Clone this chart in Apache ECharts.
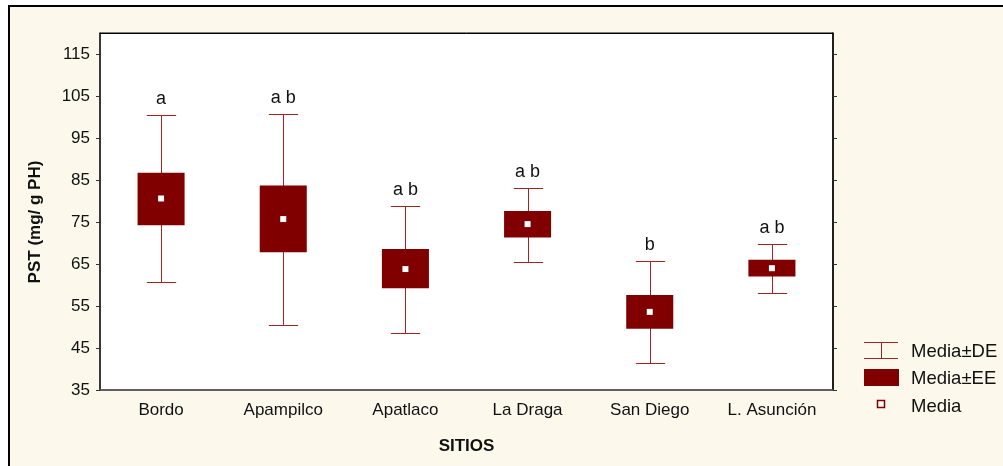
<!DOCTYPE html>
<html>
<head>
<meta charset="utf-8">
<script src="https://cdn.jsdelivr.net/npm/echarts@6/dist/echarts.min.js"></script>
<style>
html,body{margin:0;padding:0;background:#fff;}
#chart{width:1003px;height:466px;}
</style>
</head>
<body>
<div id="chart"></div>
<script>
// ---- data ----
const sitios   = ['Bordo', 'Apampilco', 'Apatlaco', 'La Draga', 'San Diego', 'L. Asunción'];
const media    = [80.6, 75.7, 63.8, 74.5, 53.6, 64.0];
const eeLow    = [74.2, 67.8, 59.2, 71.3, 49.6, 62.0];   // Media - EE
const eeHigh   = [86.7, 83.7, 68.6, 77.6, 57.6, 66.0];   // Media + EE
const deLow    = [60.6, 50.5, 48.5, 65.5, 41.4, 58.1];   // Media - DE
const deHigh   = [100.4, 100.7, 78.8, 83.1, 65.6, 69.7]; // Media + DE
const letras   = ['a', 'a b', 'a b', 'a b', 'b', 'a b'];
const yTicks   = [35, 45, 55, 65, 75, 85, 95, 105, 115];

const FONT = 'Arial, "Liberation Sans", sans-serif';
const MAROON = '#800000';
const WHISK = '#A02424';

const seriesData = sitios.map((s, i) => [i, deLow[i], eeLow[i], media[i], eeHigh[i], deHigh[i], letras[i]]);

const chart = echarts.init(document.getElementById('chart'), null, {renderer: 'canvas'});

function renderItem(params, api) {
  const i = api.value(0);
  const band = api.size([1, 0])[0];
  const pLoDE = api.coord([i, api.value(1)]);
  const pLoEE = api.coord([i, api.value(2)]);
  const pM    = api.coord([i, api.value(3)]);
  const pHiEE = api.coord([i, api.value(4)]);
  const pHiDE = api.coord([i, api.value(5)]);
  const x = Math.round(pM[0]) + 0.5;
  const boxW = band * 0.385;
  const capW = band * 0.24;
  const letter = seriesData[params.dataIndex][6];
  const lineStyle = {stroke: WHISK, lineWidth: 1, fill: null};
  return {
    type: 'group',
    children: [
      {type: 'line', shape: {x1: x, y1: pHiDE[1], x2: x, y2: pLoDE[1]}, style: lineStyle},
      {type: 'line', shape: {x1: x - capW / 2, y1: Math.round(pHiDE[1]) + 0.5, x2: x + capW / 2, y2: Math.round(pHiDE[1]) + 0.5}, style: lineStyle},
      {type: 'line', shape: {x1: x - capW / 2, y1: Math.round(pLoDE[1]) + 0.5, x2: x + capW / 2, y2: Math.round(pLoDE[1]) + 0.5}, style: lineStyle},
      {type: 'rect', shape: {x: pM[0] - boxW / 2, y: pHiEE[1], width: boxW, height: pLoEE[1] - pHiEE[1]}, style: {fill: MAROON}},
      {type: 'rect', shape: {x: pM[0] - 3, y: pM[1] - 3, width: 6, height: 6}, style: {fill: '#fff'}},
      {type: 'text', style: {text: letter, x: pM[0], y: pHiDE[1] - 16, align: 'center', verticalAlign: 'middle', font: '18px ' + FONT, fill: '#111'}}
    ]
  };
}

const option = {
  backgroundColor: '#fff',
  animation: false,
  grid: {left: 100, right: 170, top: 33, bottom: 76, show: true, backgroundColor: '#fff', borderColor: '#000', borderWidth: 1},
  xAxis: [{
    type: 'category', data: sitios, position: 'bottom', boundaryGap: true,
    axisLine: {lineStyle: {color: '#555', width: 1.5}},
    axisTick: {inside: true, length: 3, lineStyle: {color: '#333'}},
    axisLabel: {color: '#111', fontSize: 17, fontFamily: FONT, margin: 12},
    name: 'SITIOS', nameLocation: 'middle', nameGap: 48,
    nameTextStyle: {color: '#111', fontSize: 17, fontWeight: 'bold', fontFamily: FONT}
  }, {
    type: 'category', data: sitios, position: 'top', boundaryGap: true,
    axisLine: {lineStyle: {color: '#000', width: 1}},
    axisTick: {inside: true, length: 3, lineStyle: {color: '#333'}},
    axisLabel: {show: false}
  }],
  yAxis: [{
    type: 'value', min: 35, max: 120, position: 'left',
    axisLine: {show: true, lineStyle: {color: '#222', width: 1.5}},
    axisTick: {show: true, length: 4, customValues: yTicks, lineStyle: {color: '#333'}},
    axisLabel: {color: '#111', fontSize: 17, fontFamily: FONT, margin: 10, customValues: yTicks},
    splitLine: {show: false}
  }, {
    type: 'value', min: 35, max: 120, position: 'right',
    axisLine: {show: true, lineStyle: {color: '#000', width: 1.5}},
    axisTick: {show: true, length: 4, customValues: yTicks, lineStyle: {color: '#333'}},
    axisLabel: {show: false, customValues: yTicks},
    splitLine: {show: false}
  }],
  series: [{
    type: 'custom',
    name: 'PST',
    xAxisIndex: 0, yAxisIndex: 0,
    renderItem: renderItem,
    encode: {x: 0, y: [1, 2, 3, 4, 5]},
    data: seriesData,
    z: 5
  }],
  graphic: [
    {type: 'rect', z: -10, silent: true, shape: {x: 9, y: 6, width: 1010, height: 480}, style: {fill: '#FDF8EC', stroke: '#000', lineWidth: 2}},
    {type: 'text', z: 10, x: 35, y: 222, rotation: Math.PI / 2, style: {text: 'PST (mg/ g PH)', align: 'center', verticalAlign: 'middle', font: 'bold 17px ' + FONT, fill: '#111'}},
    // legend
    {type: 'line', z: 10, shape: {x1: 864, y1: 342.5, x2: 898, y2: 342.5}, style: {stroke: WHISK, lineWidth: 1}},
    {type: 'line', z: 10, shape: {x1: 864, y1: 358.5, x2: 898, y2: 358.5}, style: {stroke: WHISK, lineWidth: 1}},
    {type: 'line', z: 10, shape: {x1: 881.5, y1: 342.5, x2: 881.5, y2: 358.5}, style: {stroke: WHISK, lineWidth: 1}},
    {type: 'text', z: 10, x: 911, y: 352, style: {text: 'Media±DE', verticalAlign: 'middle', font: '18.5px ' + FONT, fill: '#111'}},
    {type: 'rect', z: 10, shape: {x: 864, y: 369, width: 35, height: 17}, style: {fill: MAROON}},
    {type: 'text', z: 10, x: 911, y: 379, style: {text: 'Media±EE', verticalAlign: 'middle', font: '18.5px ' + FONT, fill: '#111'}},
    {type: 'rect', z: 10, shape: {x: 877.5, y: 400.5, width: 7, height: 7}, style: {fill: '#fff', stroke: MAROON, lineWidth: 1.5}},
    {type: 'text', z: 10, x: 911, y: 407, style: {text: 'Media', verticalAlign: 'middle', font: '18.5px ' + FONT, fill: '#111'}}
  ]
};
chart.setOption(option);
</script>
</body>
</html>
